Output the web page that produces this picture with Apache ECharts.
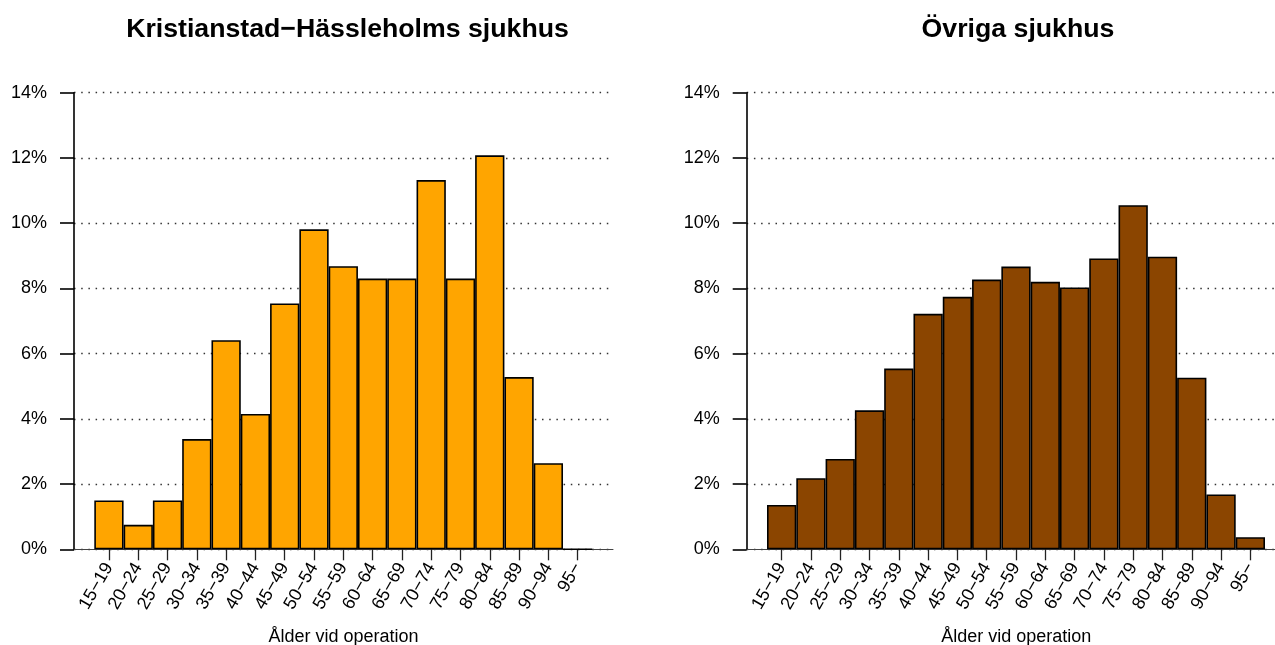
<!DOCTYPE html>
<html>
	<head>
		<meta charset="UTF-8">
		<title></title>
		<script src="https://cdn.jsdelivr.net/npm/echarts@6/dist/echarts.min.js"></script>
		<style>
			html, body { margin: 0; padding: 0; background: #fff; }
			#main { width: 1275px; height: 645px; }
		</style>
	</head>
	<body>
		<div id="main"></div>
	</body>
<script>
// data
var categories = ['15−19', '20−24', '25−29', '30−34', '35−39', '40−44', '45−49', '50−54', '55−59',
	'60−64', '65−69', '70−74', '75−79', '80−84', '85−89', '90−94', '95−'];
var kristianstad = [1.50, 0.75, 1.50, 3.38, 6.41, 4.15, 7.54, 9.81, 8.68, 8.30, 8.30, 11.32, 8.30, 12.08, 5.28, 2.64, 0];
var ovriga = [1.36, 2.18, 2.77, 4.26, 5.54, 7.22, 7.74, 8.27, 8.67, 8.20, 8.03, 8.92, 10.55, 8.97, 5.26, 1.68, 0.37];
var titles = ['Kristianstad−Hässleholms sjukhus', 'Övriga sjukhus'];
var xName = 'Ålder vid operation';
var colors = ['#FFA500', '#8B4500'];

var font = '"Liberation Sans", Arial, Helvetica, sans-serif';
var axisLeft = [74, 746.7];
var titleX = [342.5, 1013];
var plotTop = 92.7, plotHeight = 456.6;

var grid = [], xAxis = [], yAxis = [], series = [], title = [];
var values = [kristianstad, ovriga];

for (var i = 0; i < 2; i++) {
	// grid with axes and dotted lines
	grid.push({ left: axisLeft[i], top: plotTop, width: 539, height: plotHeight, outerBoundsMode: 'none', containLabel: false });
	// grid holding the bars
	grid.push({ left: axisLeft[i] + 20.3, top: plotTop, width: 498, height: plotHeight, outerBoundsMode: 'none', containLabel: false });

	xAxis.push({
		type: 'value', gridIndex: 2 * i, min: 0, max: 1,
		axisLine: { show: true, lineStyle: { color: '#444', width: 1 } },
		axisTick: { show: false }, axisLabel: { show: false }, splitLine: { show: false },
		name: xName, nameLocation: 'middle', nameGap: 79,
		nameTextStyle: { color: '#000', fontSize: 18, fontFamily: font }
	});
	xAxis.push({
		type: 'category', gridIndex: 2 * i + 1, data: categories,
		axisLine: { show: false },
		axisTick: { show: true, alignWithLabel: true, length: 11, lineStyle: { color: '#222', width: 1.3 } },
		axisLabel: { rotate: 60, margin: 15, interval: 0, color: '#000', fontSize: 18, fontFamily: font }
	});
	yAxis.push({
		type: 'value', gridIndex: 2 * i, min: 0, max: 14, interval: 2,
		axisLine: { show: true, lineStyle: { color: '#000', width: 1.6 } },
		axisTick: { show: true, length: 14, lineStyle: { color: '#000', width: 1.6 } },
		axisLabel: { formatter: '{value}%', margin: 27, color: '#000', fontSize: 18, fontFamily: font },
		splitLine: { show: true, lineStyle: { color: '#333', width: 1.3, type: [1.5, 5.7] } }
	});
	yAxis.push({ type: 'value', gridIndex: 2 * i + 1, min: 0, max: 14, show: false });

	series.push({
		type: 'bar', xAxisIndex: 2 * i + 1, yAxisIndex: 2 * i + 1,
		data: values[i], barCategoryGap: 0, silent: true,
		itemStyle: { color: colors[i], borderColor: '#000', borderWidth: 1.6 }
	});

	title.push({
		text: titles[i], left: titleX[i], top: 11, textAlign: 'center',
		textStyle: { color: '#000', fontSize: 26.7, fontWeight: 'bold', fontFamily: font }
	});
}

var myChart = echarts.init(document.getElementById('main'));
var option = {
	animation: false,
	backgroundColor: '#fff',
	title: title,
	grid: grid,
	xAxis: xAxis,
	yAxis: yAxis,
	series: series
};
myChart.setOption(option);
</script>
</html>
